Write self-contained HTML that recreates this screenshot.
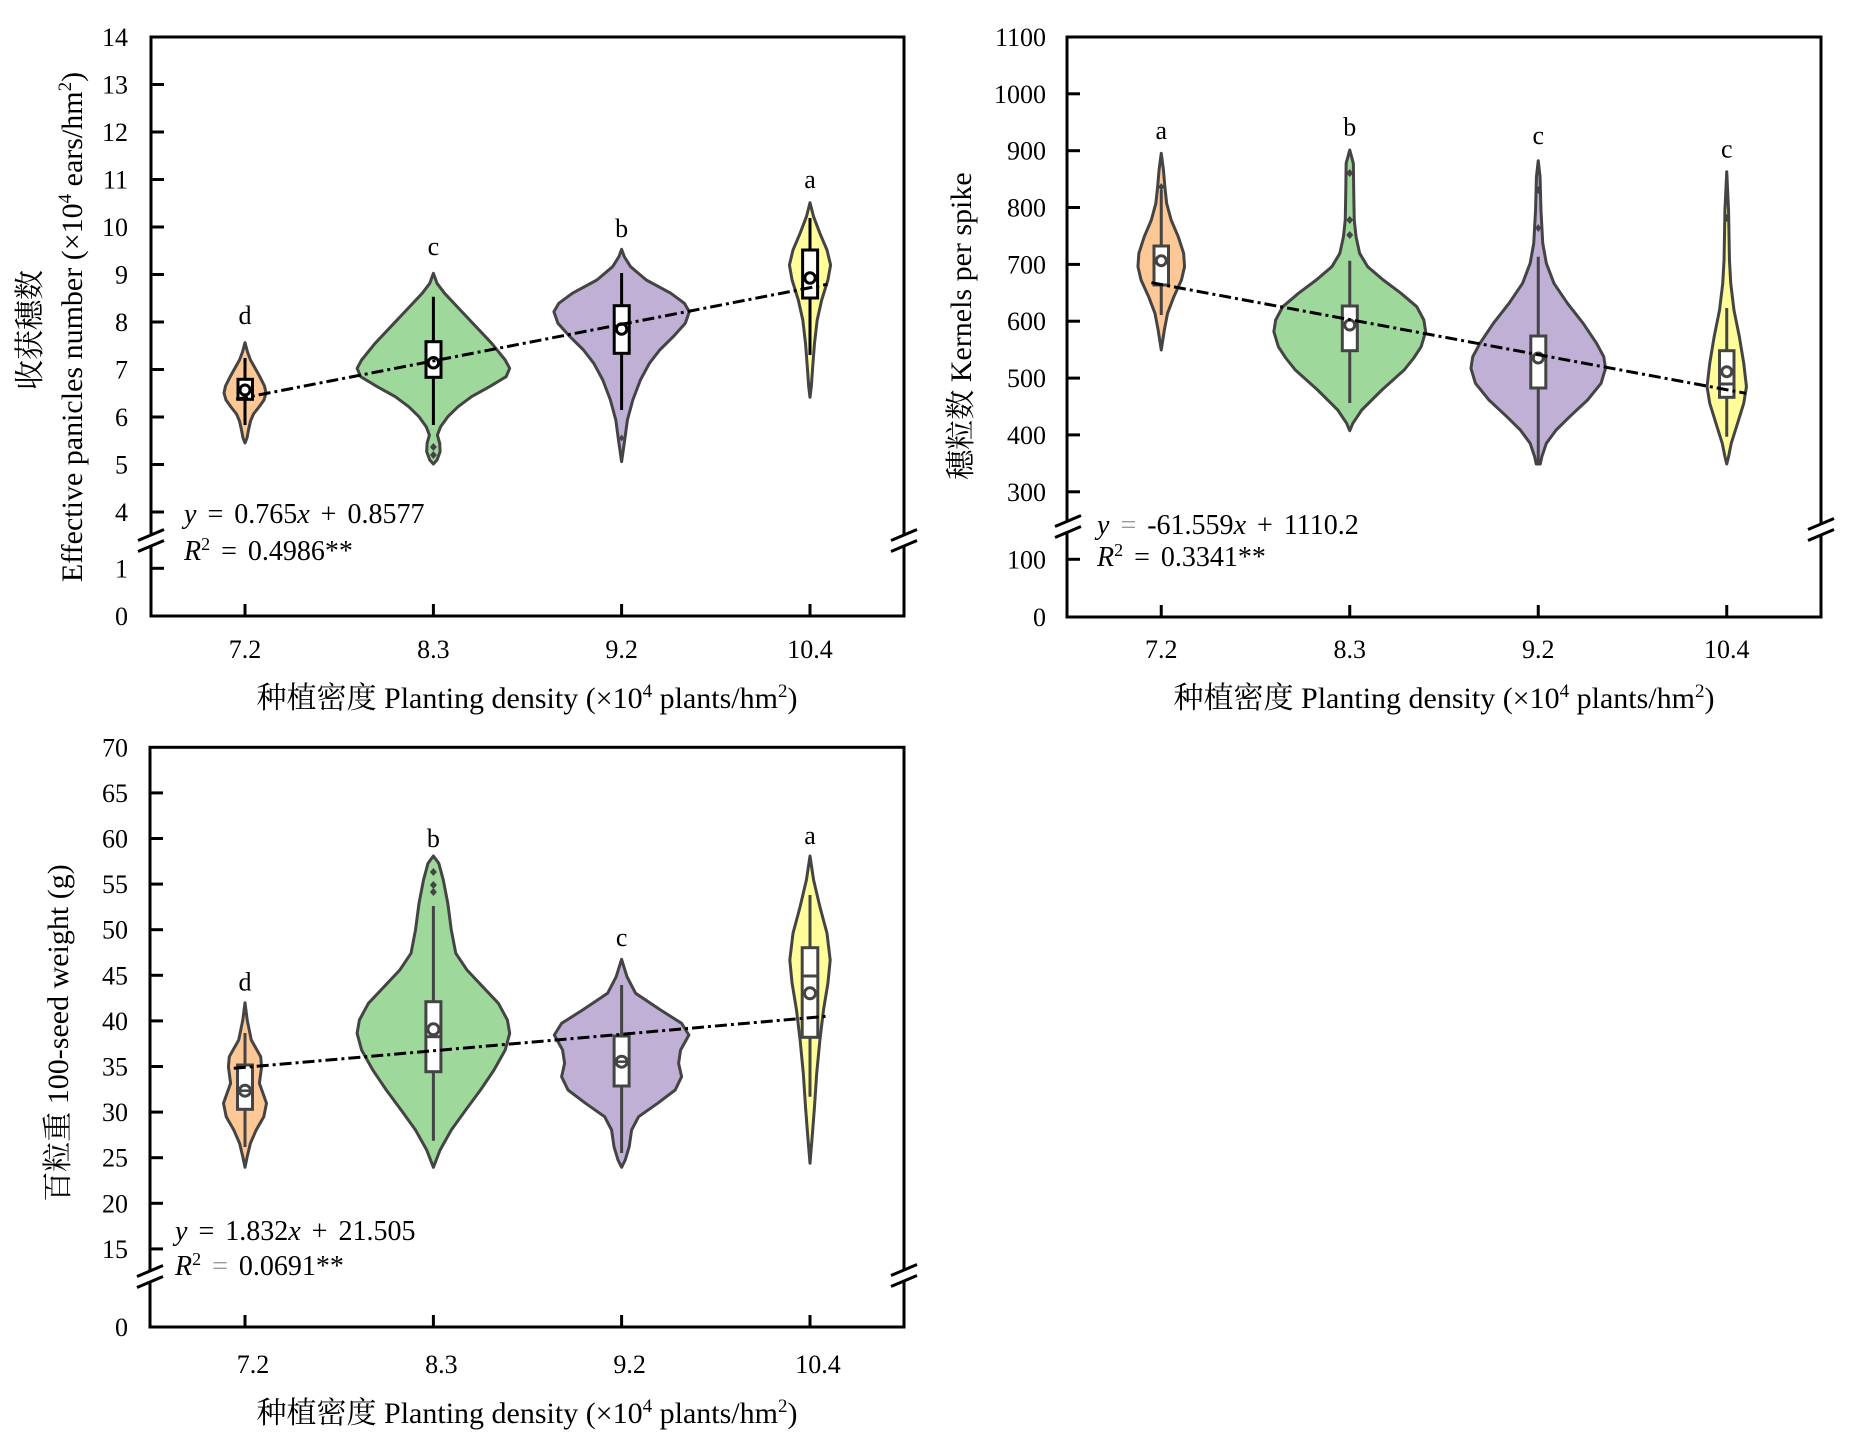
<!DOCTYPE html>
<html>
<head>
<meta charset="utf-8">
<style>
html,body{margin:0;padding:0;background:#fff;}
svg{display:block;}
</style>
</head>
<body>
<svg width="1849" height="1447" viewBox="0 0 1849 1447" xmlns="http://www.w3.org/2000/svg" font-family="'Liberation Serif','Noto Serif CJK SC',serif">
<rect width="1849" height="1447" fill="#fff"/>

<!-- ================= PANEL 1 ================= -->
<g>
  <g stroke="#444" stroke-width="3" stroke-linejoin="round">
    <g transform="translate(245,0)"><polygon fill="#FDC895" points="0,342.7 2.5,352 5.5,360 10,368 15,377 19.5,386 21,393 19,400 14,407 8.5,414 5.5,421 3.5,430 2,438 0,443 -2,438 -3.5,430 -5.5,421 -8.5,414 -14,407 -19,400 -21,393 -19.5,386 -15,377 -10,368 -5.5,360 -2.5,352"/></g>
    <g transform="translate(433.4,0)"><polygon fill="#9ED89B" points="0,273.3 3.6,283.3 11.2,293.3 26.9,310 42.6,326.7 58.3,343.3 71.8,360 76.3,368.3 72.7,376.7 56.1,386.7 38.1,396.7 24.7,406.7 14.4,416.7 7.2,426.7 4,435 6.3,443.3 6.7,451.7 3.6,460 0,464 -3.6,460 -6.7,451.7 -6.3,443.3 -4,435 -7.2,426.7 -14.4,416.7 -24.7,406.7 -38.1,396.7 -56.1,386.7 -72.7,376.7 -76.3,368.3 -71.8,360 -58.3,343.3 -42.6,326.7 -26.9,310 -11.2,293.3 -3.6,283.3"/></g>
    <g transform="translate(621.6,0)"><polygon fill="#C0B0D6" points="0,249.3 2.7,256.7 9,266.7 24.7,280 49.3,293.3 62.8,303.3 67.7,311.7 63.7,323.3 51.6,336.7 38.1,350 27.8,363.3 18.8,380 11.2,400 5.8,420 3.1,440 0,461.7 -3.1,440 -5.8,420 -11.2,400 -18.8,380 -27.8,363.3 -38.1,350 -51.6,336.7 -63.7,323.3 -67.7,311.7 -62.8,303.3 -49.3,293.3 -24.7,280 -9,266.7 -2.7,256.7"/></g>
    <g transform="translate(810,0)"><polygon fill="#FFFD99" points="0,202.7 3.6,216.7 9.9,233.3 17,250 20.6,265 17.9,280 11.7,300 7.2,320 4.5,343.3 2.7,366.7 1.3,386.7 0,397.3 -1.3,386.7 -2.7,366.7 -4.5,343.3 -7.2,320 -11.7,300 -17.9,280 -20.6,265 -17,250 -9.9,233.3 -3.6,216.7"/></g>
  </g>
  <g stroke="#000" stroke-width="3">
    <line x1="245" y1="358" x2="245" y2="425"/>
    <rect x="238" y="379.3" width="14.5" height="20" fill="#fff"/>
    <circle cx="245" cy="390" r="5" fill="#fff" stroke-width="3"/>
    <line x1="433.4" y1="296.7" x2="433.4" y2="425"/>
    <rect x="426" y="341.7" width="15" height="35.6" fill="#fff"/>
    <circle cx="433.4" cy="362.7" r="5.2" fill="#fff" stroke-width="3"/>
    <line x1="621.6" y1="273" x2="621.6" y2="410"/>
    <rect x="614.2" y="305.7" width="15" height="47.6" fill="#fff"/>
    <circle cx="621.6" cy="329" r="5.2" fill="#fff" stroke-width="3"/>
    <line x1="810" y1="218" x2="810" y2="355"/>
    <rect x="802.6" y="250" width="15" height="48" fill="#fff"/>
    <circle cx="810" cy="278" r="5.2" fill="#fff" stroke-width="3"/>
  </g>
  <g fill="#444">
    <path d="M433.4,443 l3.5,4 l-3.5,4 l-3.5,-4z"/>
    <path d="M433.4,451 l3.5,4 l-3.5,4 l-3.5,-4z"/>
    <path d="M621.6,434.5 l2.5,3.5 l-2.5,3.5 l-2.5,-3.5z"/>
  </g>
  <line x1="236.1" y1="399.3" x2="827.4" y2="284.3" stroke="#000" stroke-width="3" stroke-dasharray="12,4,3,4"/>
  <g font-size="26" text-anchor="middle" fill="#000">
    <text x="245" y="324">d</text>
    <text x="433.4" y="255">c</text>
    <text x="621.6" y="237">b</text>
    <text x="810" y="188">a</text>
  </g>
  <rect x="151" y="37" width="753" height="579" fill="none" stroke="#000" stroke-width="3"/>
  <g stroke="#000" stroke-width="3">
    <line x1="151" y1="84.5" x2="164" y2="84.5"/>
    <line x1="151" y1="132" x2="164" y2="132"/>
    <line x1="151" y1="179.5" x2="164" y2="179.5"/>
    <line x1="151" y1="227" x2="164" y2="227"/>
    <line x1="151" y1="274.5" x2="164" y2="274.5"/>
    <line x1="151" y1="322" x2="164" y2="322"/>
    <line x1="151" y1="369.5" x2="164" y2="369.5"/>
    <line x1="151" y1="417" x2="164" y2="417"/>
    <line x1="151" y1="464.5" x2="164" y2="464.5"/>
    <line x1="151" y1="512" x2="164" y2="512"/>
    <line x1="151" y1="568.3" x2="164" y2="568.3"/>
    <line x1="245" y1="616" x2="245" y2="604"/>
    <line x1="433.4" y1="616" x2="433.4" y2="604"/>
    <line x1="621.6" y1="616" x2="621.6" y2="604"/>
    <line x1="810" y1="616" x2="810" y2="604"/>
  </g>
  <rect x="146" y="535" width="10" height="11" fill="#fff"/>
  <rect x="899" y="535" width="10" height="11" fill="#fff"/>
  <g stroke="#000" stroke-width="3">
    <line x1="138" y1="540.5" x2="164" y2="529.5"/>
    <line x1="138" y1="551.5" x2="164" y2="540.5"/>
    <line x1="891" y1="540.5" x2="917" y2="529.5"/>
    <line x1="891" y1="551.5" x2="917" y2="540.5"/>
  </g>
  <g font-size="26" text-anchor="end" fill="#000">
    <text x="128" y="46">14</text>
    <text x="128" y="93.5">13</text>
    <text x="128" y="141">12</text>
    <text x="128" y="188.5">11</text>
    <text x="128" y="236">10</text>
    <text x="128" y="283.5">9</text>
    <text x="128" y="331">8</text>
    <text x="128" y="378.5">7</text>
    <text x="128" y="426">6</text>
    <text x="128" y="473.5">5</text>
    <text x="128" y="521">4</text>
    <text x="128" y="577.3">1</text>
    <text x="128" y="625">0</text>
  </g>
  <g font-size="26" text-anchor="middle" fill="#000">
    <text x="245" y="658">7.2</text>
    <text x="433.4" y="658">8.3</text>
    <text x="621.6" y="658">9.2</text>
    <text x="810" y="658">10.4</text>
  </g>
  <text x="184" y="523" font-size="28" word-spacing="4"><tspan font-style="italic">y</tspan> = 0.765<tspan font-style="italic">x</tspan> + 0.8577</text>
  <text x="184" y="560" font-size="28" word-spacing="4"><tspan font-style="italic">R</tspan><tspan dy="-10" font-size="18">2</tspan><tspan dy="10"> = 0.4986**</tspan></text>
  <text x="527" y="708" font-size="30" text-anchor="middle">种植密度 Planting density (×10<tspan dy="-11" font-size="19">4</tspan><tspan dy="11"> plants/hm</tspan><tspan dy="-11" font-size="19">2</tspan><tspan dy="11">)</tspan></text>
  <text transform="translate(40,330) rotate(-90)" font-size="30" text-anchor="middle">收获穗数</text>
  <text transform="translate(82,327) rotate(-90)" font-size="30" text-anchor="middle">Effective panicles number (×10<tspan dy="-11" font-size="19">4</tspan><tspan dy="11"> ears/hm</tspan><tspan dy="-11" font-size="19">2</tspan><tspan dy="11">)</tspan></text>
</g>

<!-- ================= PANEL 2 ================= -->
<g>
  <g stroke="#444" stroke-width="3" stroke-linejoin="round">
    <g transform="translate(1161.25,0)"><polygon fill="#FDC895" points="0,153.3 2.2,170 3.6,186.7 5.4,203.3 9.9,220 17,236.7 22.4,253.3 23.3,266.7 20.2,280 12.6,296.7 6.3,313.3 3.1,330 0,350 -3.1,330 -6.3,313.3 -12.6,296.7 -20.2,280 -23.3,266.7 -22.4,253.3 -17,236.7 -9.9,220 -5.4,203.3 -3.6,186.7 -2.2,170"/></g>
    <g transform="translate(1349.75,0)"><polygon fill="#9ED89B" points="0,150 3.6,163.3 4,193.3 4.5,220 6.3,236.7 9.9,253.3 17.9,266.7 33.5,280 51.3,293.3 67,306.7 74.1,320 75.9,331.7 71.4,346.7 64,358 54.4,370 32.1,390 12,410 3.1,423.3 0,430.7 -3.1,423.3 -12,410 -32.1,390 -54.4,370 -64,358 -71.4,346.7 -75.9,331.7 -74.1,320 -67,306.7 -51.3,293.3 -33.5,280 -17.9,266.7 -9.9,253.3 -6.3,236.7 -4.5,220 -4,193.3 -3.6,163.3"/></g>
    <g transform="translate(1538.25,0)"><polygon fill="#C0B0D6" points="0,160.7 1.8,176.7 2.7,210 4.5,243.3 8.1,263.3 15.7,283.3 29.2,303.3 44.9,323.3 58.3,343.3 65.5,356.7 67.3,368.3 62.8,383.3 49.3,400 31.4,416.7 17.9,430 8.1,443.3 3.6,456.7 2,464 -2,464 -3.6,456.7 -8.1,443.3 -17.9,430 -31.4,416.7 -49.3,400 -62.8,383.3 -67.3,368.3 -65.5,356.7 -58.3,343.3 -44.9,323.3 -29.2,303.3 -15.7,283.3 -8.1,263.3 -4.5,243.3 -2.7,210 -1.8,176.7"/></g>
    <g transform="translate(1726.75,0)"><polygon fill="#FFFD99" points="0,171.7 1.8,210 2.7,260 4,283.3 7.2,310 12.6,336.7 17,363.3 19.7,386.7 17,403.3 10.8,423.3 4.5,443.3 1.8,456.7 0,464 -1.8,456.7 -4.5,443.3 -10.8,423.3 -17,403.3 -19.7,386.7 -17,363.3 -12.6,336.7 -7.2,310 -4,283.3 -2.7,260 -1.8,210"/></g>
  </g>
  <g stroke="#444" stroke-width="3">
    <line x1="1161.25" y1="190" x2="1161.25" y2="315"/>
    <rect x="1154" y="246" width="14.5" height="39" fill="#fff"/>
    <circle cx="1161.25" cy="260.7" r="5" fill="#fff"/>
    <line x1="1349.75" y1="260.7" x2="1349.75" y2="403"/>
    <rect x="1342.3" y="306" width="15" height="44.7" fill="#fff"/>
    <circle cx="1349.75" cy="325" r="5" fill="#fff"/>
    <line x1="1538.25" y1="256.7" x2="1538.25" y2="463"/>
    <rect x="1530.8" y="336" width="15" height="52" fill="#fff"/>
    <circle cx="1538.25" cy="358" r="5" fill="#fff"/>
    <line x1="1726.75" y1="308" x2="1726.75" y2="436.7"/>
    <rect x="1719.5" y="350.7" width="14.5" height="46.6" fill="#fff"/>
    <line x1="1719.5" y1="384" x2="1734" y2="384"/>
    <circle cx="1726.75" cy="371.7" r="5" fill="#fff"/>
  </g>
  <g fill="#444">
    <path d="M1161.25,183 l3,4 l-3,4 l-3,-4z"/>
    <path d="M1349.75,169 l3.5,4 l-3.5,4 l-3.5,-4z"/>
    <path d="M1349.75,216 l3.5,4 l-3.5,4 l-3.5,-4z"/>
    <path d="M1349.75,231 l3.5,4 l-3.5,4 l-3.5,-4z"/>
    <path d="M1538.25,186 l3,4 l-3,4 l-3,-4z"/>
    <path d="M1538.25,224 l3,4 l-3,4 l-3,-4z"/>
    <path d="M1726.75,214 l3,4 l-3,4 l-3,-4z"/>
  </g>
  <line x1="1151.4" y1="282.7" x2="1745.9" y2="393.3" stroke="#000" stroke-width="3" stroke-dasharray="12,4,3,4"/>
  <g font-size="26" text-anchor="middle" fill="#000">
    <text x="1161.25" y="139">a</text>
    <text x="1349.75" y="135.5">b</text>
    <text x="1538.25" y="144">c</text>
    <text x="1726.75" y="157.5">c</text>
  </g>
  <rect x="1067" y="37" width="754" height="580" fill="none" stroke="#000" stroke-width="3"/>
  <g stroke="#000" stroke-width="3">
    <line x1="1067" y1="93.8" x2="1080" y2="93.8"/>
    <line x1="1067" y1="150.7" x2="1080" y2="150.7"/>
    <line x1="1067" y1="207.5" x2="1080" y2="207.5"/>
    <line x1="1067" y1="264.4" x2="1080" y2="264.4"/>
    <line x1="1067" y1="321.2" x2="1080" y2="321.2"/>
    <line x1="1067" y1="378.1" x2="1080" y2="378.1"/>
    <line x1="1067" y1="434.9" x2="1080" y2="434.9"/>
    <line x1="1067" y1="491.8" x2="1080" y2="491.8"/>
    <line x1="1067" y1="559.3" x2="1080" y2="559.3"/>
    <line x1="1161.25" y1="617" x2="1161.25" y2="605"/>
    <line x1="1349.75" y1="617" x2="1349.75" y2="605"/>
    <line x1="1538.25" y1="617" x2="1538.25" y2="605"/>
    <line x1="1726.75" y1="617" x2="1726.75" y2="605"/>
  </g>
  <rect x="1062" y="521" width="10" height="11" fill="#fff"/>
  <rect x="1816" y="524" width="10" height="11" fill="#fff"/>
  <g stroke="#000" stroke-width="3">
    <line x1="1055" y1="526.5" x2="1081" y2="515.5"/>
    <line x1="1055" y1="537.5" x2="1081" y2="526.5"/>
    <line x1="1808" y1="529.5" x2="1834" y2="518.5"/>
    <line x1="1808" y1="540.5" x2="1834" y2="529.5"/>
  </g>
  <g font-size="26" text-anchor="end" fill="#000">
    <text x="1046" y="46">1100</text>
    <text x="1046" y="102.8">1000</text>
    <text x="1046" y="159.7">900</text>
    <text x="1046" y="216.5">800</text>
    <text x="1046" y="273.4">700</text>
    <text x="1046" y="330.2">600</text>
    <text x="1046" y="387.1">500</text>
    <text x="1046" y="443.9">400</text>
    <text x="1046" y="500.8">300</text>
    <text x="1046" y="568.3">100</text>
    <text x="1046" y="626">0</text>
  </g>
  <g font-size="26" text-anchor="middle" fill="#000">
    <text x="1161.25" y="658">7.2</text>
    <text x="1349.75" y="658">8.3</text>
    <text x="1538.25" y="658">9.2</text>
    <text x="1726.75" y="658">10.4</text>
  </g>
  <text x="1097" y="534" font-size="28" word-spacing="4"><tspan font-style="italic">y</tspan> <tspan fill="#999">=</tspan> -61.559<tspan font-style="italic">x</tspan> + 1110.2</text>
  <text x="1097" y="566" font-size="28" word-spacing="4"><tspan font-style="italic">R</tspan><tspan dy="-10" font-size="18">2</tspan><tspan dy="10"> = 0.3341**</tspan></text>
  <text x="1444" y="708" font-size="30" text-anchor="middle">种植密度 Planting density (×10<tspan dy="-11" font-size="19">4</tspan><tspan dy="11"> plants/hm</tspan><tspan dy="-11" font-size="19">2</tspan><tspan dy="11">)</tspan></text>
  <text transform="translate(971,326) rotate(-90)" font-size="30" text-anchor="middle">穗粒数 Kernels per spike</text>
</g>

<!-- ================= PANEL 3 ================= -->
<g>
  <g stroke="#444" stroke-width="3" stroke-linejoin="round">
    <g transform="translate(245,0)"><polygon fill="#FDC895" points="0,1002.7 2.2,1020 6.3,1040 15.7,1056.7 16.6,1066.7 14.4,1083.3 21.5,1103.3 18.8,1116.7 11.2,1130 5.4,1143.3 2.2,1156.7 0,1167.3 -2.2,1156.7 -5.4,1143.3 -11.2,1130 -18.8,1116.7 -21.5,1103.3 -14.4,1083.3 -16.6,1066.7 -15.7,1056.7 -6.3,1040 -2.2,1020"/></g>
    <g transform="translate(433.4,0)"><polygon fill="#9ED89B" points="0,856 5.4,863.3 9.9,880 14.4,903.3 17.9,930 22.4,953.3 33.6,970 49.3,986.7 65,1003.3 74,1020 76.3,1033.3 71.8,1050 60.6,1070 47.1,1090 32.3,1110 17.9,1130 6.7,1150 0,1167.3 -6.7,1150 -17.9,1130 -32.3,1110 -47.1,1090 -60.6,1070 -71.8,1050 -76.3,1033.3 -74,1020 -65,1003.3 -49.3,986.7 -33.6,970 -22.4,953.3 -17.9,930 -14.4,903.3 -9.9,880 -5.4,863.3"/></g>
    <g transform="translate(621.6,0)"><polygon fill="#C0B0D6" points="0,959.3 5.4,976.7 14,993.3 39,1010 60,1023.3 67.3,1035 59,1050 57,1063.3 60,1076.7 53.6,1090 36,1103.3 17,1116.7 10,1130 7.6,1146.7 3.6,1160 0,1167.3 -3.6,1160 -7.6,1146.7 -10,1130 -17,1116.7 -36,1103.3 -53.6,1090 -60,1076.7 -57,1063.3 -59,1050 -67.3,1035 -60,1023.3 -39,1010 -14,993.3 -5.4,976.7"/></g>
    <g transform="translate(810,0)"><polygon fill="#FFFD99" points="0,856 3.6,880 9.9,906.7 17,933.3 20.2,960 17.9,983.3 13.5,1010 9.9,1040 6.7,1073.3 4.5,1106.7 2.2,1136.7 0,1163.3 -2.2,1136.7 -4.5,1106.7 -6.7,1073.3 -9.9,1040 -13.5,1010 -17.9,983.3 -20.2,960 -17,933.3 -9.9,906.7 -3.6,880"/></g>
  </g>
  <g stroke="#444" stroke-width="3">
    <line x1="245" y1="1033" x2="245" y2="1147"/>
    <rect x="237.5" y="1065" width="15" height="44.3" fill="#fff"/>
    <circle cx="245" cy="1090.7" r="5.5" fill="#fff"/>
    <line x1="237.5" y1="1090.7" x2="252.5" y2="1090.7" stroke-width="2.5"/>
    <line x1="433.4" y1="906" x2="433.4" y2="1140.7"/>
    <rect x="425.9" y="1001.7" width="15" height="70" fill="#fff"/>
    <line x1="425.9" y1="1036.7" x2="440.9" y2="1036.7"/>
    <circle cx="433.4" cy="1029.3" r="5.5" fill="#fff"/>
    <line x1="621.6" y1="985" x2="621.6" y2="1153"/>
    <rect x="614.1" y="1036" width="15" height="50" fill="#fff"/>
    <circle cx="621.6" cy="1061.7" r="5.5" fill="#fff"/>
    <line x1="614.1" y1="1061.7" x2="629.1" y2="1061.7" stroke-width="2.5"/>
    <line x1="810" y1="895" x2="810" y2="1096.7"/>
    <rect x="802.2" y="947.7" width="15.6" height="89.6" fill="#fff"/>
    <line x1="802.2" y1="976" x2="817.8" y2="976"/>
    <circle cx="810" cy="993.3" r="5.5" fill="#fff"/>
  </g>
  <g fill="#444">
    <path d="M433.4,868 l3.5,4 l-3.5,4 l-3.5,-4z"/>
    <path d="M433.4,881 l3.5,4 l-3.5,4 l-3.5,-4z"/>
    <path d="M433.4,888 l3.5,4 l-3.5,4 l-3.5,-4z"/>
  </g>
  <line x1="233.8" y1="1068.3" x2="829.6" y2="1016" stroke="#000" stroke-width="3" stroke-dasharray="12,4,3,4"/>
  <g font-size="26" text-anchor="middle" fill="#000">
    <text x="245" y="990.5">d</text>
    <text x="433.4" y="847">b</text>
    <text x="621.6" y="946">c</text>
    <text x="810" y="844">a</text>
  </g>
  <rect x="150" y="747.3" width="754" height="579.7" fill="none" stroke="#000" stroke-width="3"/>
  <g stroke="#000" stroke-width="3">
    <line x1="150" y1="792.9" x2="163" y2="792.9"/>
    <line x1="150" y1="838.5" x2="163" y2="838.5"/>
    <line x1="150" y1="884.1" x2="163" y2="884.1"/>
    <line x1="150" y1="929.7" x2="163" y2="929.7"/>
    <line x1="150" y1="975.3" x2="163" y2="975.3"/>
    <line x1="150" y1="1020.9" x2="163" y2="1020.9"/>
    <line x1="150" y1="1066.5" x2="163" y2="1066.5"/>
    <line x1="150" y1="1112.1" x2="163" y2="1112.1"/>
    <line x1="150" y1="1157.7" x2="163" y2="1157.7"/>
    <line x1="150" y1="1203.3" x2="163" y2="1203.3"/>
    <line x1="150" y1="1248.9" x2="163" y2="1248.9"/>
    <line x1="245" y1="1327" x2="245" y2="1315"/>
    <line x1="433.4" y1="1327" x2="433.4" y2="1315"/>
    <line x1="621.6" y1="1327" x2="621.6" y2="1315"/>
    <line x1="810" y1="1327" x2="810" y2="1315"/>
  </g>
  <rect x="145" y="1271" width="10" height="11" fill="#fff"/>
  <rect x="899" y="1270" width="10" height="11" fill="#fff"/>
  <g stroke="#000" stroke-width="3">
    <line x1="137" y1="1276.5" x2="163" y2="1265.5"/>
    <line x1="137" y1="1287.5" x2="163" y2="1276.5"/>
    <line x1="891" y1="1275.5" x2="917" y2="1264.5"/>
    <line x1="891" y1="1286.5" x2="917" y2="1275.5"/>
  </g>
  <g font-size="26" text-anchor="end" fill="#000">
    <text x="128" y="756.3">70</text>
    <text x="128" y="801.9">65</text>
    <text x="128" y="847.5">60</text>
    <text x="128" y="893.1">55</text>
    <text x="128" y="938.7">50</text>
    <text x="128" y="984.3">45</text>
    <text x="128" y="1029.9">40</text>
    <text x="128" y="1075.5">35</text>
    <text x="128" y="1121.1">30</text>
    <text x="128" y="1166.7">25</text>
    <text x="128" y="1212.3">20</text>
    <text x="128" y="1257.9">15</text>
    <text x="128" y="1336">0</text>
  </g>
  <g font-size="26" text-anchor="middle" fill="#000">
    <text x="253" y="1373">7.2</text>
    <text x="441.4" y="1373">8.3</text>
    <text x="629.6" y="1373">9.2</text>
    <text x="818" y="1373">10.4</text>
  </g>
  <text x="175" y="1240" font-size="28" word-spacing="4"><tspan font-style="italic">y</tspan> = 1.832<tspan font-style="italic">x</tspan> + 21.505</text>
  <text x="175" y="1275" font-size="28" word-spacing="4"><tspan font-style="italic">R</tspan><tspan dy="-10" font-size="18">2</tspan><tspan dy="10"> </tspan><tspan fill="#999">=</tspan> 0.0691**</text>
  <text x="527" y="1423" font-size="30" text-anchor="middle">种植密度 Planting density (×10<tspan dy="-11" font-size="19">4</tspan><tspan dy="11"> plants/hm</tspan><tspan dy="-11" font-size="19">2</tspan><tspan dy="11">)</tspan></text>
  <text transform="translate(68,1033) rotate(-90)" font-size="30" text-anchor="middle">百粒重 100-seed weight (g)</text>
</g>
</svg>
</body>
</html>
